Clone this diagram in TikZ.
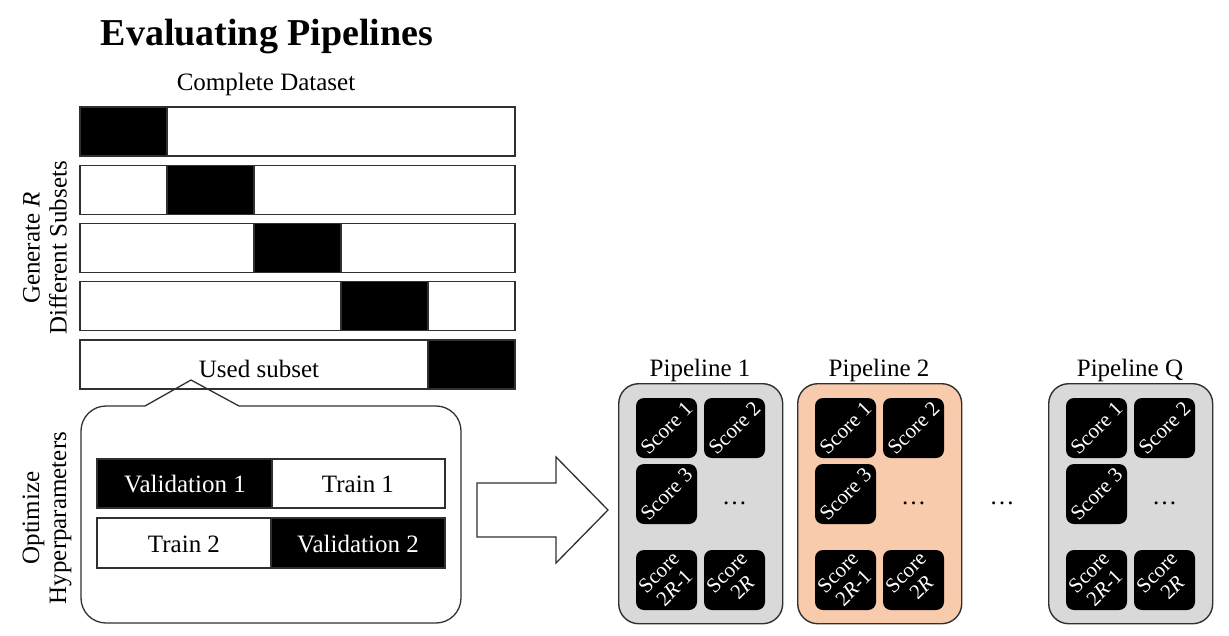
\documentclass[tikz,border=0pt]{standalone}
\usepackage{fontspec}
\setmainfont{Liberation Serif}
\definecolor{pgray}{HTML}{D9D9D9}
\definecolor{peach}{HTML}{F8CBAD}
\definecolor{edge}{HTML}{303030}
\newcommand\drawpipe[4]{%
  \node[pipe, fill=#3, minimum width=164pt, minimum height=240pt, anchor=north west] (#2) at (#1,383) {};
  \node[lbl, anchor=base] (#2lab) at (#1+82,376) {#4};
  \node[score] (#2s1) at (#1+48.5,428) {};
  \node[scoretxt] (#2t1) at (#2s1) {Score 1};
  \node[score] (#2s2) at (#1+116.5,428) {};
  \node[scoretxt] (#2t2) at (#2s2) {Score 2};
  \node[score] (#2s3) at (#1+48.5,494) {};
  \node[scoretxt] (#2t3) at (#2s3) {Score 3};
  \node[lbl, anchor=base] (#2dots) at (#1+116.5,504) {\dots};
  \node[score] (#2s4) at (#1+48.5,580) {};
  \node[scoretxt] (#2t4) at (#2s4) {Score\\2\textit{R}-1};
  \node[score] (#2s5) at (#1+116.5,580) {};
  \node[scoretxt] (#2t5) at (#2s5) {Score\\2\textit{R}};
}
\begin{document}
\begin{tikzpicture}[x=1pt,y=-1pt,
  lbl/.style={font=\fontsize{25}{27}\selectfont, inner sep=0pt},
  barw/.style={draw=edge, line width=1.3pt, fill=white},
  barb/.style={draw=edge, line width=1.3pt, fill=black},
  pipe/.style={draw=edge, line width=1.4pt, rounded corners=20pt, inner sep=0pt},
  score/.style={fill=black, rounded corners=8pt, minimum width=61pt, minimum height=60pt, inner sep=0pt},
  scoretxt/.style={text=white, font=\fontsize{21}{22}\selectfont, align=center, rotate=45, inner sep=0pt},
]
\path[use as bounding box] (0,0) rectangle (1229,635);

% title
\node[font=\fontsize{38}{40}\selectfont\bfseries, anchor=base, inner sep=0pt] (title) at (267,45) {Evaluating Pipelines};
\node[lbl, anchor=base] (complete) at (266,90) {Complete Dataset};

% dataset bars
\foreach \i in {0,...,4} {
  \draw[barw] (80,107+58.25*\i) rectangle (515,156+58.25*\i);
  \draw[barb] (80+87*\i,107+58.25*\i) rectangle (167+87*\i,156+58.25*\i);
}
\node[lbl, anchor=base] (used) at (259,377) {Used subset};

% side labels
\node[lbl, rotate=90, align=center] (gen) at (45,248) {Generate \textit{R}\\Different Subsets};
\node[lbl, rotate=90, align=center] (opt) at (47,518) {Optimize\\Hyperparameters};

% callout
\draw[draw=edge, line width=1.3pt, rounded corners=25pt]
  (239,406) -- (461,406) -- (461,623) -- (81,623) -- (81,406) -- (145,406);
\draw[draw=edge, line width=1.3pt, line join=miter] (145,406) -- (191,380) -- (239,406);

% inner bars
\draw[barb] (97,459) rectangle (272,508);
\draw[barw] (272,459) rectangle (445,508);
\draw[barw] (97,518) rectangle (271,568);
\draw[barb] (271,518) rectangle (445,568);
\node[lbl, anchor=base, text=white] (val1) at (185,492) {Validation 1};
\node[lbl, anchor=base] (tr1) at (358,492) {Train 1};
\node[lbl, anchor=base] (tr2) at (184,552) {Train 2};
\node[lbl, anchor=base, text=white] (val2) at (358,552) {Validation 2};

% big arrow
\draw[draw=edge, line width=1.3pt, fill=white, line join=miter]
  (477,483) -- (556,483) -- (556,457) -- (608,510) -- (556,563) -- (556,537) -- (477,537) -- cycle;

% pipelines
\drawpipe{618}{pa}{pgray}{Pipeline 1}
\drawpipe{797}{pb}{peach}{Pipeline 2}
\drawpipe{1048}{pq}{pgray}{Pipeline Q}
\node[lbl, anchor=base] (between) at (1002,504) {\dots};
\end{tikzpicture}
\end{document}
